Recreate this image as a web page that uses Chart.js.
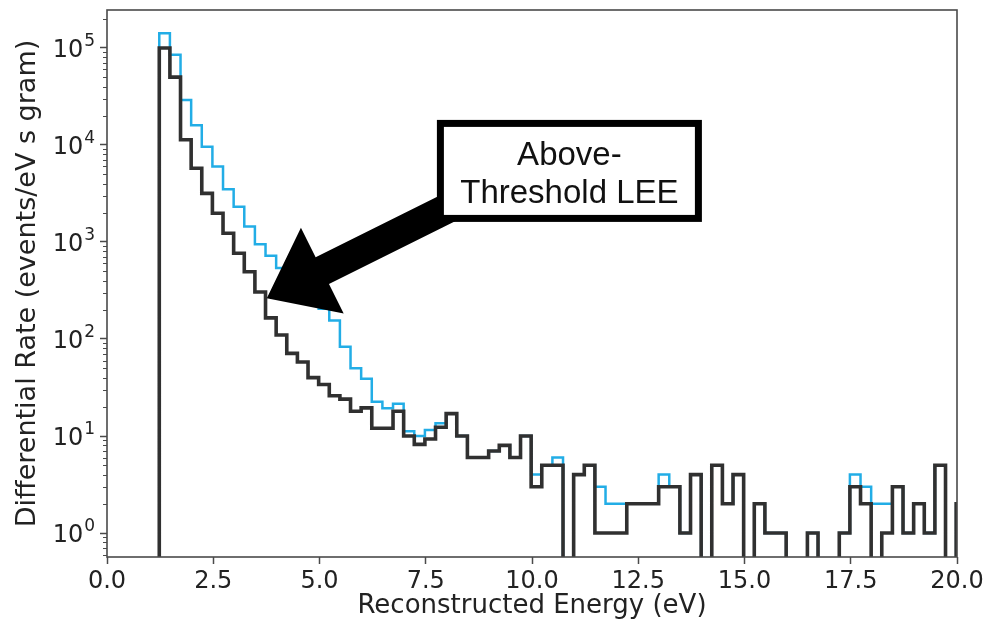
<!DOCTYPE html>
<html>
<head>
<meta charset="utf-8">
<script src="https://cdn.jsdelivr.net/npm/chart.js@4.4.1/dist/chart.umd.min.js"></script>
<style>
  html, body { margin: 0; padding: 0; background: #fff; }
  #wrap { width: 990px; height: 630px; }
</style>
</head>
<body>
<div id="wrap"><canvas id="rateChart" width="990" height="630"></canvas></div>
<script>
/* --------------- Binning --------------------- */
const binStart = 1.23;  // eV, left edge of first bin
const binWidth = 0.25;  // eV

/* --------------- Differential rate per bin (events/eV s gram) --------------------- */
const rateBlack = [
  100000, 50000, 11300, 5750, 3170, 1980, 1230, 765, 494, 305,
  165, 110, 71, 58, 40, 34, 26, 24, 18, 19.5,
  12, 12, 18, 10, 8.2, 9.3, 12.3, 17, 10, 6,
  6, 7, 8, 6, 10, 3, 5, 5, 0, 4,
  5, 1, 1, 1, 2, 2, 2, 3, 3, 1,
  4, 0, 5, 2, 4, 0, 2, 1, 1, 0,
  0, 1, 0, 0, 1, 3, 2, 0, 1, 3,
  1, 2, 1, 5, 0, 2
];
const rateCyan = [
  142000, 85000, 29000, 16000, 9600, 6000, 3500, 2300, 1440, 950,
  720, 540, 420, 330, 260, 205, 155, 83, 50, 39,
  22.6, 19.3, 21.5, 11.2, 10, 11.5, 13.5, 17, 10, 6,
  6, 7, 8, 6, 10, 4, 5, 6, 0, 4,
  5, 3, 2, 2, 2, 2, 2, 4, 3, 1,
  4, 0, 5, 2, 4, 0, 2, 1, 1, 0,
  0, 1, 0, 0, 1, 4, 3, 2, 2, 3,
  1, 2, 1, 5, 0, 2
];

/* --------------- Ticks --------------------- */
const xTicks = [0, 2.5, 5, 7.5, 10, 12.5, 15, 17.5, 20];
const yDecades = [0, 1, 2, 3, 4, 5];
const yMin = 0.566;
const yMax = 2.46e5;

/* --------------- Annotation --------------------- */
const noteLines = ["Above-", "Threshold LEE"];
const noteCenter = { x: 10.88, y: 5400 };
const arrowTip = { x: 3.76, y: 263 };
const arrowTail = { x: 8.4, y: 2700 };

const floorRate = 1e-3; // empty bins drop below the axis
const isDecade = (v) => Math.abs(Math.log10(v) - Math.round(Math.log10(v))) < 1e-9;
const spineColor = "#4a4a4a";
const textColor = "#222";

const stepPoints = (values) => {
  const pts = [{ x: binStart, y: floorRate }];
  values.forEach((v, i) => pts.push({ x: binStart + i * binWidth, y: v > 0 ? v : floorRate }));
  const last = values[values.length - 1];
  pts.push({ x: binStart + values.length * binWidth, y: last > 0 ? last : floorRate });
  return pts;
};

/* --------------- Frame, log labels and the note --------------------- */
const overlayPlugin = {
  id: "overlay",
  afterDraw(chart) {
    const { ctx, chartArea: a, scales: { x, y } } = chart;
    ctx.save();

    // minor log ticks
    ctx.strokeStyle = spineColor;
    ctx.lineWidth = 1;
    y.ticks.forEach((t) => {
      if (isDecade(t.value)) return;
      const py = Math.round(y.getPixelForValue(t.value)) + 0.5;
      ctx.beginPath();
      ctx.moveTo(a.left - 4, py);
      ctx.lineTo(a.left, py);
      ctx.stroke();
    });

    // decade labels, 10 with a raised exponent
    ctx.fillStyle = textColor;
    yDecades.forEach((e) => {
      const py = y.getPixelForValue(Math.pow(10, e));
      const right = a.left - 12;
      ctx.font = "24px 'DejaVu Sans', sans-serif";
      ctx.textBaseline = "alphabetic";
      ctx.textAlign = "left";
      const base = "10", exp = String(e);
      const w1 = ctx.measureText(base).width;
      ctx.font = "17px 'DejaVu Sans', sans-serif";
      const w2 = ctx.measureText(exp).width;
      ctx.font = "24px 'DejaVu Sans', sans-serif";
      ctx.fillText(base, right - w2 - w1 - 1, py + 9);
      ctx.font = "17px 'DejaVu Sans', sans-serif";
      ctx.fillText(exp, right - w2, py - 2);
    });

    // spines
    ctx.lineWidth = 1.6;
    ctx.strokeRect(a.left, a.top, a.right - a.left, a.bottom - a.top);

    // arrow
    const tip = { x: x.getPixelForValue(arrowTip.x), y: y.getPixelForValue(arrowTip.y) };
    const tail = { x: x.getPixelForValue(arrowTail.x), y: y.getPixelForValue(arrowTail.y) };
    const len = Math.hypot(tip.x - tail.x, tip.y - tail.y);
    const u = { x: (tip.x - tail.x) / len, y: (tip.y - tail.y) / len };
    const n = { x: -u.y, y: u.x };
    const headLen = 62, headHalf = 48, shaftHalf = 15;
    const b = { x: tip.x - u.x * headLen, y: tip.y - u.y * headLen };
    ctx.fillStyle = "#000";
    ctx.beginPath();
    ctx.moveTo(tip.x, tip.y);
    ctx.lineTo(b.x + n.x * headHalf, b.y + n.y * headHalf);
    ctx.lineTo(b.x + n.x * shaftHalf, b.y + n.y * shaftHalf);
    ctx.lineTo(tail.x + n.x * shaftHalf, tail.y + n.y * shaftHalf);
    ctx.lineTo(tail.x - n.x * shaftHalf, tail.y - n.y * shaftHalf);
    ctx.lineTo(b.x - n.x * shaftHalf, b.y - n.y * shaftHalf);
    ctx.lineTo(b.x - n.x * headHalf, b.y - n.y * headHalf);
    ctx.closePath();
    ctx.fill();

    // text box
    const cx = x.getPixelForValue(noteCenter.x);
    const cy = y.getPixelForValue(noteCenter.y);
    const bw = 258, bh = 95;
    ctx.fillStyle = "#fff";
    ctx.fillRect(cx - bw / 2, cy - bh / 2, bw, bh);
    ctx.strokeStyle = "#000";
    ctx.lineWidth = 7;
    ctx.strokeRect(cx - bw / 2, cy - bh / 2, bw, bh);
    ctx.fillStyle = "#111";
    ctx.font = "33px 'Liberation Sans', Arial, sans-serif";
    ctx.textAlign = "center";
    ctx.textBaseline = "alphabetic";
    ctx.fillText(noteLines[0], cx, cy - 6);
    ctx.fillText(noteLines[1], cx, cy + 32);

    ctx.restore();
  },
};

/* --------------- Chart --------------------- */
const tickFont = { family: "'DejaVu Sans', sans-serif", size: 24 };

new Chart(document.getElementById("rateChart"), {
  type: "line",
  plugins: [overlayPlugin],
  data: {
    datasets: [
      {
        data: stepPoints(rateBlack),
        borderColor: "#303030",
        borderWidth: 3.6,
        stepped: true,
        pointRadius: 0,
        fill: false,
        borderJoinStyle: "miter",
        borderCapStyle: "butt",
      },
      {
        data: stepPoints(rateCyan),
        borderColor: "#22ade6",
        borderWidth: 2.5,
        stepped: true,
        pointRadius: 0,
        fill: false,
        borderJoinStyle: "miter",
        borderCapStyle: "butt",
      },
    ],
  },
  options: {
    responsive: false,
    animation: false,
    devicePixelRatio: 1,
    layout: { padding: { top: 10, right: 33, left: 0, bottom: 0 } },
    plugins: { legend: { display: false }, tooltip: { enabled: false } },
    scales: {
      x: {
        type: "linear",
        min: 0,
        max: 20,
        afterBuildTicks: (scale) => { scale.ticks = xTicks.map((v) => ({ value: v })); },
        afterFit: (scale) => { scale.height = 73; scale.paddingLeft = 0; scale.paddingRight = 0; },
        ticks: {
          autoSkip: false,
          maxRotation: 0,
          padding: 3,
          color: textColor,
          font: tickFont,
          callback: (v) => Number(v).toFixed(1),
        },
        grid: { drawOnChartArea: false, tickLength: 7, tickColor: spineColor, tickWidth: 1.5 },
        border: { display: false },
        title: {
          display: true,
          text: "Reconstructed Energy (eV)",
          color: textColor,
          font: { family: "'DejaVu Sans', sans-serif", size: 26 },
          padding: { top: 0, bottom: 8 },
        },
      },
      y: {
        type: "logarithmic",
        min: yMin,
        max: yMax,
        afterBuildTicks: (scale) => {
          const ticks = [];
          for (let e = yDecades[0] - 1; e <= yDecades[yDecades.length - 1]; e++) {
            for (let m = 1; m <= 9; m++) {
              const v = m * Math.pow(10, e);
              if (v >= yMin && v <= yMax) ticks.push({ value: v });
            }
          }
          scale.ticks = ticks;
        },
        afterFit: (scale) => { scale.width = 107; scale.paddingTop = 0; scale.paddingBottom = 0; },
        ticks: {
          autoSkip: false,
          padding: 4,
          font: tickFont,
          callback: () => "", // decade labels drawn with superscripts in the overlay
        },
        grid: {
          drawOnChartArea: false,
          tickLength: 7,
          tickWidth: 1.5,
          tickColor: (c) => (c.tick && isDecade(c.tick.value) ? spineColor : "rgba(0,0,0,0)"),
        },
        border: { display: false },
        title: {
          display: true,
          text: "Differential Rate (events/eV s gram)",
          color: textColor,
          font: { family: "'DejaVu Sans', sans-serif", size: 27 },
          padding: { top: 12, bottom: 0 },
        },
      },
    },
  },
});
</script>
</body>
</html>
